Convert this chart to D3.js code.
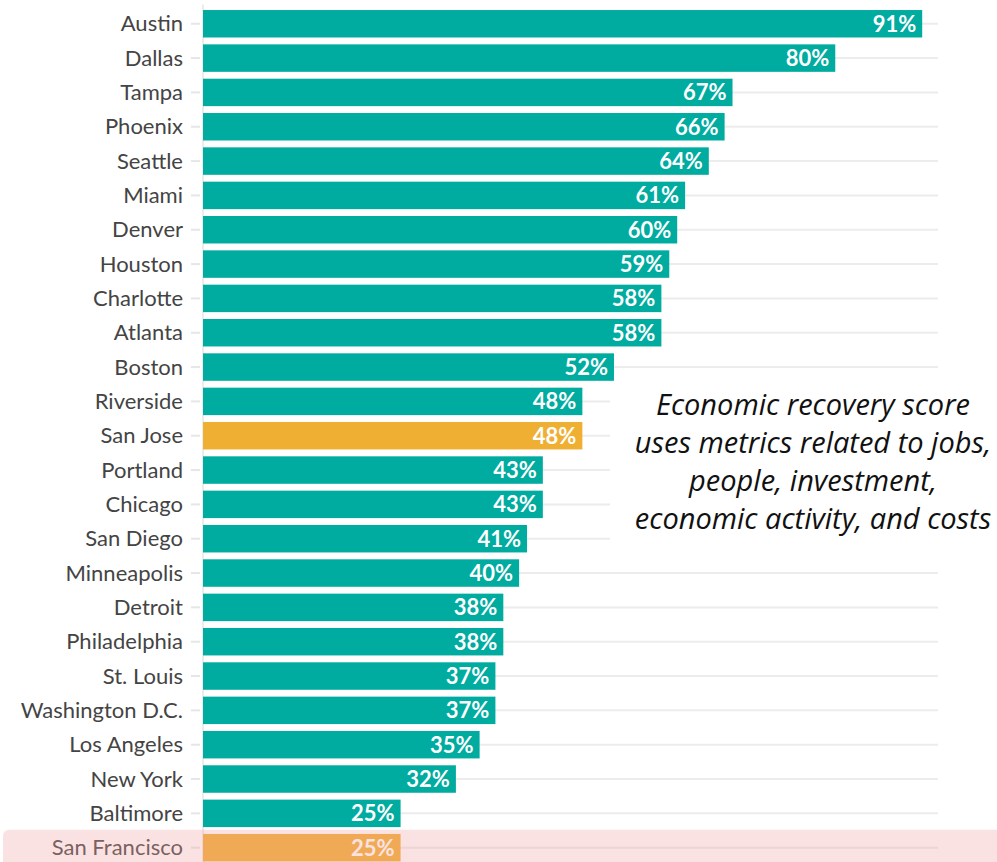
<!DOCTYPE html>
<html>
<head>
<meta charset="utf-8">
<script src="https://cdn.jsdelivr.net/npm/d3@7"></script>
<style>
  html, body { margin: 0; padding: 0; background: #fff; }
  svg { display: block; }
</style>
</head>
<body>
<svg id="chart" width="997" height="862"></svg>
<script>
// Economic recovery score by metro area
const cities = ["Austin", "Dallas", "Tampa", "Phoenix", "Seattle", "Miami", "Denver",
  "Houston", "Charlotte", "Atlanta", "Boston", "Riverside", "San Jose", "Portland",
  "Chicago", "San Diego", "Minneapolis", "Detroit", "Philadelphia", "St. Louis",
  "Washington D.C.", "Los Angeles", "New York", "Baltimore", "San Francisco"];
const scores = [91, 80, 67, 66, 64, 61, 60, 59, 58, 58, 52, 48, 48, 43, 43, 41, 40,
  38, 38, 37, 37, 35, 32, 25, 25];
const highlighted = ["San Jose", "San Francisco"];
const focusCity = "San Francisco";
const noteLines = ["Economic recovery score", "uses metrics related to jobs,",
  "people, investment,", "economic activity, and costs"];

const data = cities.map((c, i) => ({ city: c, value: scores[i] }));

const svg = d3.select("#chart");
const W = 997, H = 862;
const margin = { left: 203, top: 6.6 };

const x = d3.scaleLinear().domain([0, 93]).range([margin.left, 938]);
const y = d3.scaleBand().domain(cities)
  .range([margin.top, margin.top + 34.33 * 25])
  .paddingInner(0.2).paddingOuter(0.1);

const teal = "#00ab9f";
const gold = "#efaf33";

// horizontal gridlines at each category
svg.append("g").selectAll("line").data(cities).join("line")
  .attr("x1", x(0)).attr("x2", x.range()[1])
  .attr("y1", d => y(d) + y.bandwidth() / 2)
  .attr("y2", d => y(d) + y.bandwidth() / 2)
  .attr("stroke", "#ececec").attr("stroke-width", 2);

// category axis
const yAxis = svg.append("g")
  .attr("transform", `translate(${x(0)},0)`)
  .call(d3.axisLeft(y).tickSize(12).tickPadding(8));
yAxis.select(".domain").attr("stroke", "#ececec").attr("stroke-width", 2)
  .attr("d", `M0,${margin.top - 2}V${H}`);
yAxis.selectAll(".tick line").attr("stroke", "#e6e6e6").attr("stroke-width", 2)
  .attr("x1", -3);
yAxis.selectAll(".tick text")
  .attr("fill", "#444")
  .attr("dy", "0.34em")
  .style("font-family", "Lato, 'Source Sans Pro', sans-serif")
  .style("font-size", "22px");

// bars
svg.append("g").selectAll("rect").data(data).join("rect")
  .attr("x", x(0))
  .attr("y", d => y(d.city))
  .attr("width", d => x(d.value) - x(0))
  .attr("height", y.bandwidth())
  .attr("fill", d => highlighted.includes(d.city) ? gold : teal);

// value labels inside bar ends
svg.append("g").selectAll("text").data(data).join("text")
  .attr("x", d => x(d.value) - 6)
  .attr("y", d => y(d.city) + y.bandwidth() / 2)
  .attr("dy", "0.36em")
  .attr("text-anchor", "end")
  .attr("fill", "#fff")
  .style("font-family", "Lato, sans-serif")
  .style("font-weight", "700")
  .style("font-size", "22px")
  .text(d => d.value + "%");

// explanatory note on a white panel
const noteX = 813;
svg.append("rect")
  .attr("x", 610).attr("y", 384).attr("width", W - 610).attr("height", 176)
  .attr("fill", "#fff");
svg.append("g").selectAll("text").data(noteLines).join("text")
  .attr("x", noteX)
  .attr("y", (d, i) => 405 + i * 38)
  .attr("dy", "0.35em")
  .attr("text-anchor", "middle")
  .attr("fill", "#111")
  .style("font-family", "'Open Sans', sans-serif")
  .style("font-style", "italic")
  .style("font-size", "29px")
  .text(d => d);

// highlight band across the focus row
svg.append("rect")
  .attr("x", 3)
  .attr("y", y(focusCity) + y.bandwidth() / 2 - 18)
  .attr("width", W + 10)
  .attr("height", 40)
  .attr("rx", 6)
  .attr("fill", "rgb(242,161,161)")
  .attr("fill-opacity", 0.31);
</script>
</body>
</html>
